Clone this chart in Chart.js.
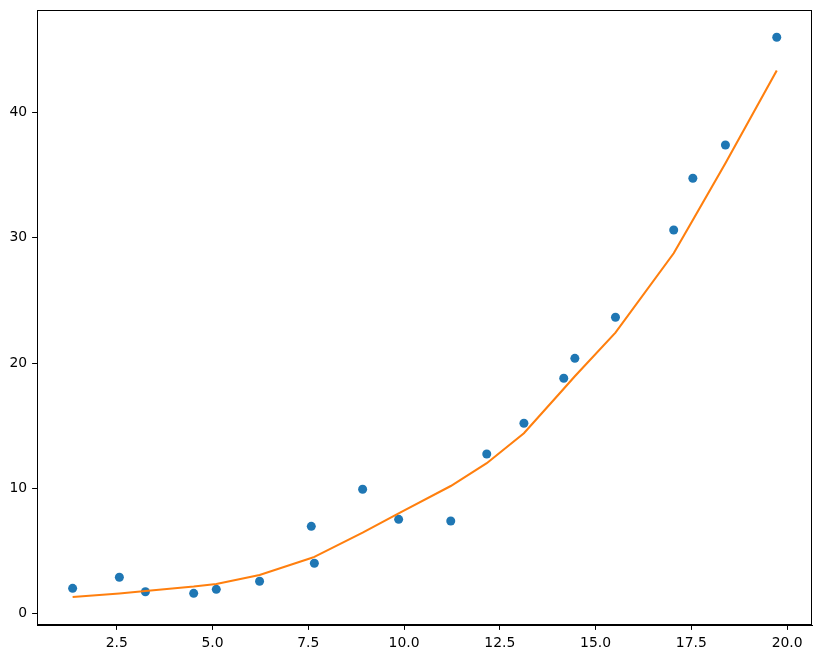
<!DOCTYPE html>
<html>
<head>
<meta charset="utf-8">
<script src="https://cdn.jsdelivr.net/npm/chart.js@4/dist/chart.umd.min.js"></script>
<style>
html,body{margin:0;padding:0;background:#fff;}
#wrap{width:822px;height:659px;}
</style>
</head>
<body>
<div id="wrap"><canvas id="c" width="822" height="659"></canvas></div>
<script>
const xValues = [1.35, 2.57, 3.25, 4.51, 5.10, 6.23, 7.58, 7.66, 8.92, 9.86, 11.22, 12.16, 13.13, 14.17, 14.46, 15.52, 17.04, 17.54, 18.39, 19.73];
const yObserved = [2.01, 2.89, 1.74, 1.61, 1.93, 2.57, 6.96, 4.01, 9.92, 7.52, 7.39, 12.74, 15.19, 18.79, 20.38, 23.66, 30.63, 34.76, 37.42, 46.02];
const yFitted = [1.32, 1.60, 1.80, 2.15, 2.36, 3.07, 4.44, 4.52, 6.46, 8.00, 10.18, 12.00, 14.39, 17.95, 18.95, 22.43, 28.77, 31.43, 35.96, 43.36];
const xTicks = [2.5, 5.0, 7.5, 10.0, 12.5, 15.0, 17.5, 20.0];
const yTicks = [0, 10, 20, 30, 40];

const font = {family: "'DejaVu Sans'", size: 13.9};

const boxPlugin = {
  id: 'box',
  afterDraw(chart) {
    const a = chart.chartArea, ctx = chart.ctx;
    ctx.save();
    ctx.strokeStyle = '#000';
    ctx.lineWidth = 1;
    ctx.strokeRect(Math.round(a.left) + 0.5, Math.round(a.top) + 0.5, Math.round(a.right - a.left) - 1, Math.round(a.bottom - a.top) - 1);
    ctx.restore();
  }
};

new Chart(document.getElementById('c'), {
  type: 'scatter',
  data: {
    datasets: [
      {
        label: 'data',
        data: xValues.map((x, i) => ({x: x, y: yObserved[i]})),
        backgroundColor: '#1f77b4',
        borderColor: '#1f77b4',
        pointRadius: 4.5,
        pointBorderWidth: 0,
        order: 2
      },
      {
        label: 'fit',
        type: 'line',
        data: xValues.map((x, i) => ({x: x, y: yFitted[i]})),
        borderColor: '#ff7f0e',
        backgroundColor: '#ff7f0e',
        borderWidth: 2.1,
        pointRadius: 0,
        tension: 0,
        fill: false,
        order: 1
      }
    ]
  },
  options: {
    responsive: false,
    animation: false,
    devicePixelRatio: 1,
    layout: {padding: {top: 10, right: 10, left: 0, bottom: 0}},
    plugins: {legend: {display: false}, tooltip: {enabled: false}},
    scales: {
      x: {
        type: 'linear',
        min: 0.42,
        max: 20.65,
        afterFit(s) { s.height = 34; s.paddingLeft = 0; s.paddingRight = 0; },
        afterBuildTicks(s) { s.ticks = xTicks.map(v => ({value: v})); },
        grid: {drawOnChartArea: false, drawTicks: true, tickLength: 4.9, tickColor: '#000', tickWidth: 1},
        border: {display: true, color: '#000', width: 1},
        ticks: {color: '#000', font: font, padding: 4.9, maxRotation: 0, autoSkip: false,
          callback: v => Number(v).toFixed(1)}
      },
      y: {
        type: 'linear',
        min: -0.92,
        max: 48.2,
        afterFit(s) { s.width = 37; s.paddingTop = 0; s.paddingBottom = 0; },
        afterBuildTicks(s) { s.ticks = yTicks.map(v => ({value: v})); },
        grid: {drawOnChartArea: false, drawTicks: true, tickLength: 4.9, tickColor: '#000', tickWidth: 1},
        border: {display: true, color: '#000', width: 1},
        ticks: {color: '#000', font: font, padding: 4.9, autoSkip: false,
          callback: v => String(v)}
      }
    }
  },
  plugins: [boxPlugin]
});
</script>
</body>
</html>
